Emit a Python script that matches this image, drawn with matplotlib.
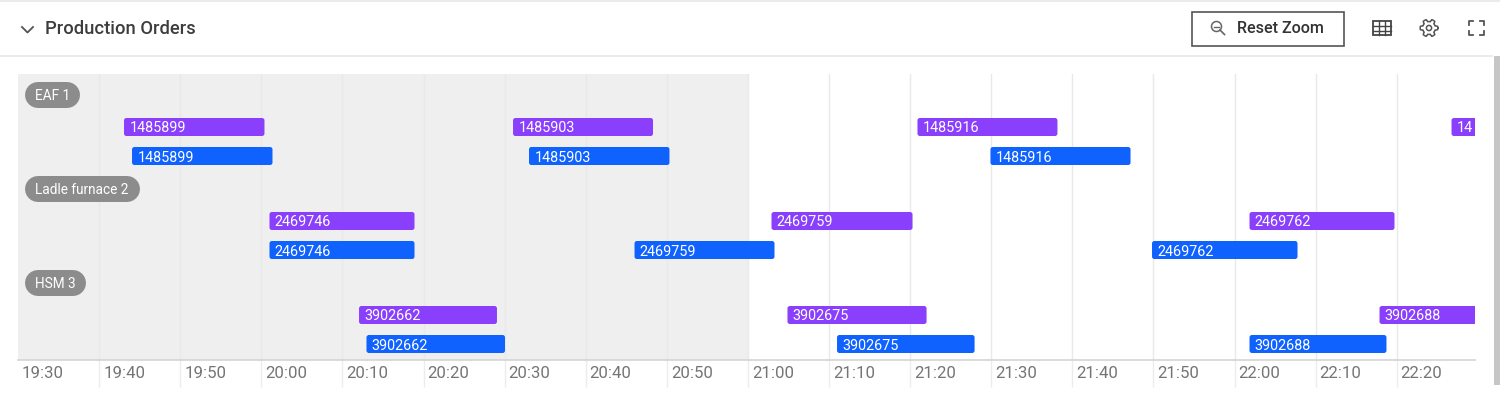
import matplotlib
matplotlib.use('Agg')
import matplotlib.pyplot as plt
from matplotlib.patches import FancyBboxPatch, Rectangle, Circle
import numpy as np

plt.rcParams['font.family'] = ['Roboto', 'DejaVu Sans']

W, H = 1500, 393
PX_PER_MIN = 8.11
ROW_PX = 94.0

tick_labels = ['19:30', '19:40', '19:50', '20:00', '20:10', '20:20', '20:30', '20:40', '20:50',
               '21:00', '21:10', '21:20', '21:30', '21:40', '21:50', '22:00', '22:10', '22:20']
tick_minutes = [i * 10 for i in range(len(tick_labels))]
shade_end = 90

row_names = ['EAF 1', 'Ladle furnace 2', 'HSM 3']
pill_widths = [55, 115, 61]

# minutes after 19:30
purple_rows = [0, 0, 0, 0, 1, 1, 1, 2, 2, 2]
purple_labels = ['1485899', '1485903', '1485916', '14', '2469746', '2469759', '2469762',
                 '3902662', '3902675', '3902688']
purple_start = [13.07, 61.04, 110.91, 176.76, 31.01, 92.91, 151.85, 42.05, 94.88, 167.88]
purple_end = [30.39, 78.30, 128.17, 194.0, 48.89, 110.30, 169.73, 59.06, 112.03, 185.0]

blue_rows = [0, 0, 0, 1, 1, 1, 2, 2, 2]
blue_labels = ['1485899', '1485903', '1485916', '2469746', '2469759', '2469762',
               '3902662', '3902675', '3902688']
blue_start = [14.06, 63.01, 119.91, 31.01, 76.02, 139.83, 42.97, 100.99, 151.85]
blue_end = [31.38, 80.33, 137.18, 48.89, 93.28, 157.77, 60.05, 117.95, 168.74]

PURPLE = '#8a3ffc'
BLUE = '#0f62fe'

fig = plt.figure(figsize=(15, 3.93), dpi=100, facecolor='white')


def px_axes(left, top, right, bottom):
    return fig.add_axes([left / W, 1 - bottom / H, (right - left) / W, (bottom - top) / H])


# page furniture in pixel coordinates
page = fig.add_axes([0, 0, 1, 1])
page.set_xlim(0, W)
page.set_ylim(H, 0)
page.axis('off')
page.plot([0, W], [0.5, 0.5], color='#e8e8e8', lw=1.2)
page.plot([0, 1492], [55.5, 55.5], color='#e6e6e6', lw=1.2)
page.add_patch(Rectangle((1494, 56), 6, 329, color='#c6c6c6', lw=0))
page.plot([22, 27.5, 33], [27, 32.5, 27], color='#525252', lw=1.3)
page.text(45, 28.5, 'Production Orders', fontsize=13.25, color='#3d3d3d', weight='medium',
          va='center', ha='left')

page.add_patch(Rectangle((1191.5, 11.5), 152, 34.5, fill=False, ec='#555555', lw=1.2))
page.text(1237, 28.5, 'Reset Zoom', fontsize=11.6, color='#333333', weight='medium',
          va='center', ha='left')
page.add_patch(Circle((1216.5, 26.5), 5, fill=False, ec='#666666', lw=1.1))
page.plot([1214, 1219], [26.5, 26.5], color='#666666', lw=1)
page.plot([1220, 1224.5], [30, 34.5], color='#666666', lw=1.2)

page.add_patch(Rectangle((1373, 20.5), 17.5, 14.5, fill=False, ec='#444444', lw=1.3))
for gx in [1379, 1385]:
    page.plot([gx, gx], [20.5, 35], color='#444444', lw=1)
for gy in [25.5, 30.5]:
    page.plot([1373, 1390.5], [gy, gy], color='#444444', lw=1)

ang = np.linspace(0, 2 * np.pi, 97)
rad = 7.6 + 1.2 * np.clip(3 * np.cos(6 * ang), -1, 1)
page.plot(1429 + rad * np.cos(ang), 28 + rad * np.sin(ang), color='#555555', lw=1.1)
page.add_patch(Circle((1429, 28), 2.6, fill=False, ec='#555555', lw=1.1))

for cx, cy, sx, sy in [(1468.5, 20.5, 1, 1), (1483.5, 20.5, -1, 1),
                       (1468.5, 35, 1, -1), (1483.5, 35, -1, -1)]:
    page.plot([cx + 4 * sx, cx, cx], [cy, cy, cy + 4 * sy], color='#555555', lw=1.3)

# chart
ax = px_axes(18, 74, 1475, 360)
ax.set_xlim(0, (1475 - 18) / PX_PER_MIN)
ax.set_ylim((360 - 127) / ROW_PX, (74 - 127) / ROW_PX)
ax.patch.set_alpha(0)
for name in ['top', 'left', 'right']:
    ax.spines[name].set_visible(False)
ax.spines['bottom'].set_color('#d4d4d4')
ax.spines['bottom'].set_linewidth(1.2)
ax.set_yticks([])
ax.axvspan(0, shade_end, color='#efefef', lw=0, zorder=0)

ax.set_xticks(tick_minutes[1:])
ax.set_xticklabels([])
ax.tick_params(axis='x', length=19.5, width=1.0, color='#ececec')
ax.grid(axis='x', color='#e9e9e9', lw=1.0, zorder=1)
ax.set_axisbelow(True)

for m, lab in zip(tick_minutes, tick_labels):
    ax.annotate(lab, xy=(m, 0), xycoords=('data', 'axes fraction'),
                xytext=(2.9, -9.4), textcoords='offset points', fontsize=12.1,
                color='#757575', ha='left', va='center', annotation_clip=False)

bar_h = 18 / ROW_PX
blue_shift = 29 / ROW_PX
aspect = PX_PER_MIN / ROW_PX


def draw_bars(rows, labels, starts, ends, color, shift):
    for r, lab, s, e in zip(rows, labels, starts, ends):
        y = r + shift
        bar = FancyBboxPatch((s, y - bar_h / 2), e - s, bar_h,
                             boxstyle='round,pad=0,rounding_size=0.3',
                             mutation_aspect=aspect, fc=color, ec='none', zorder=3)
        ax.add_patch(bar)
        ax.text(s + 0.66, y, lab, color='white', fontsize=10.4, va='center_baseline', ha='left',
                zorder=4, clip_on=True)


draw_bars(purple_rows, purple_labels, purple_start, purple_end, PURPLE, 0)
draw_bars(blue_rows, blue_labels, blue_start, blue_end, BLUE, blue_shift)

# lane pills
page.set_zorder(ax.get_zorder() + 1)
page.patch.set_alpha(0)
for i, (name, w) in enumerate(zip(row_names, pill_widths)):
    cy = 95 + i * ROW_PX
    page.plot([25 + 13, 25 + w - 13], [cy, cy], color='#8c8c8c', lw=26 * 0.72,
              solid_capstyle='round')
    page.text(35, cy, name, color='white', fontsize=9.8, va='center_baseline', ha='left')

fig.savefig('out.png', dpi=100)
